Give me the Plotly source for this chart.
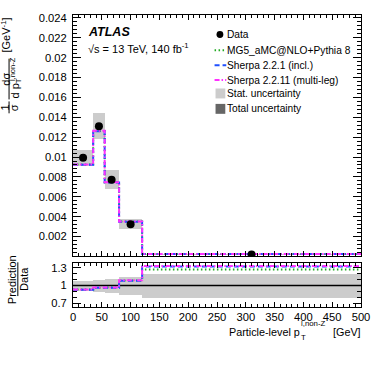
import plotly.graph_objects as go

# ---------------- data ----------------
bin_edges = [0, 35, 55, 80, 120, 500]
data_vals = [0.00993, 0.01310, 0.00772, 0.00323, 0.00018]
stat_rel = [0.08, 0.10, 0.12, 0.16, 0.21]
mg5_vals = [0.00924, 0.01262, 0.00745, 0.00350, 0.000229]
sh221_vals = [0.00922, 0.01260, 0.00743, 0.00349, 0.000238]
sh2211_vals = [0.00925, 0.01264, 0.00747, 0.00352, 0.000240]
data_x = [17.5, 45, 67, 100, 310]

y_main_ticks = [0.002, 0.004, 0.006, 0.008, 0.010, 0.012, 0.014, 0.016, 0.018, 0.020, 0.022, 0.024]
y_main_labels = ["0.002", "0.004", "0.006", "0.008", "0.01", "0.012", "0.014", "0.016", "0.018", "0.02", "0.022", "0.024"]
y_ratio_ticks = [0.7, 1.0, 1.3]
y_ratio_labels = ["0.7", "1", "1.3"]
x_ticks = [0, 50, 100, 150, 200, 250, 300, 350, 400, 450, 500]
x_labels = [str(v) for v in x_ticks]

models = [
    ("MG5_aMC@NLO+Pythia 8", mg5_vals, "#22aa22", "1.5px,2.5px"),
    ("Sherpa 2.2.1 (incl.)", sh221_vals, "#2050ff", "5px,3px"),
    ("Sherpa 2.2.11 (multi-leg)", sh2211_vals, "#ff30ff", "5px,2px,1.5px,2px"),
]

# ---------------- layout geometry ----------------
W, H = 382, 367
ML, MR, MT, MB = 73, 14, 13, 60
PW, PH = W - ML - MR, H - MT - MB
FONT = "Liberation Sans, Arial, Helvetica, sans-serif"


def px(x):
    return (x - ML) / PW


def py(y):
    return (H - MB - y) / PH


centers = [(bin_edges[i] + bin_edges[i + 1]) / 2 for i in range(len(data_vals))]
widths = [bin_edges[i + 1] - bin_edges[i] for i in range(len(data_vals))]

fig = go.Figure()

# ---- main panel: stat uncertainty boxes ----
st_err = [d * r for d, r in zip(data_vals, stat_rel)]
fig.add_trace(go.Bar(x=centers, y=[2 * e for e in st_err], base=[d - e for d, e in zip(data_vals, st_err)],
                     width=widths, marker=dict(color="#cccccc", line=dict(width=0)),
                     xaxis="x", yaxis="y", showlegend=False))

# ---- main panel: predictions ----
for name, vals, col, dash in models:
    fig.add_trace(go.Scatter(x=bin_edges, y=vals + [vals[-1]], mode="lines", line_shape="hv",
                             line=dict(color=col, width=2, dash=dash), xaxis="x", yaxis="y",
                             showlegend=False))

# ---- main panel: data ----
fig.add_trace(go.Scatter(x=data_x, y=data_vals, mode="markers",
                         marker=dict(color="black", size=8, symbol="circle"),
                         xaxis="x", yaxis="y", showlegend=False))

# ---- ratio panel ----
fig.add_trace(go.Bar(x=centers, y=[2 * r for r in stat_rel], base=[1 - r for r in stat_rel], width=widths,
                     marker=dict(color="#cccccc", line=dict(width=0)), xaxis="x2", yaxis="y2",
                     showlegend=False))
fig.add_trace(go.Scatter(x=[bin_edges[0], bin_edges[-1]], y=[1, 1], mode="lines",
                         line=dict(color="black", width=1.5), xaxis="x2", yaxis="y2", showlegend=False))
for name, vals, col, dash in models:
    r = [v / d for v, d in zip(vals, data_vals)]
    fig.add_trace(go.Scatter(x=bin_edges, y=r + [r[-1]], mode="lines", line_shape="hv",
                             line=dict(color=col, width=2, dash=dash), xaxis="x2", yaxis="y2",
                             showlegend=False))

axis_common = dict(showline=True, linecolor="black", linewidth=1, mirror="allticks",
                   ticks="inside", tickcolor="black", showgrid=False, zeroline=False,
                   tickfont=dict(family=FONT, size=11.2, color="black"))

fig.update_layout(
    width=W, height=H, margin=dict(l=ML, r=MR, t=MT, b=MB),
    paper_bgcolor="white", plot_bgcolor="white", barmode="overlay", bargap=0,
    font=dict(family=FONT, color="black"),
    xaxis=dict(domain=[0, 1], anchor="y", range=[0, 500], tickmode="array", tickvals=x_ticks,
               showticklabels=False, ticklen=5,
               minor=dict(ticks="inside", ticklen=3, tickmode="linear", tick0=0, dtick=10, tickcolor="black"),
               **axis_common),
    yaxis=dict(domain=[py(256), 1], anchor="x", range=[0, 0.0243], tickmode="array",
               tickvals=y_main_ticks, ticktext=y_main_labels, ticklen=8, ticklabelstandoff=3,
               minor=dict(ticks="inside", ticklen=4, tickmode="linear", tick0=0, dtick=0.0004, tickcolor="black"),
               **axis_common),
    xaxis2=dict(domain=[0, 1], anchor="y2", range=[0, 500], tickmode="array", tickvals=x_ticks,
                ticktext=x_labels, ticklen=5,
                minor=dict(ticks="inside", ticklen=3, tickmode="linear", tick0=0, dtick=10, tickcolor="black"),
                **axis_common),
    yaxis2=dict(domain=[0, py(262.3)], anchor="x2", range=[0.635, 1.39], tickmode="array",
                tickvals=y_ratio_ticks, ticktext=y_ratio_labels, ticklen=8, ticklabelstandoff=3,
                minor=dict(ticks="inside", ticklen=4, tickmode="linear", tick0=0.6, dtick=0.1, tickcolor="black"),
                **axis_common),
)

ann = []
shapes = []


def text(x, y, s, size=11.0, xanchor="center", yanchor="middle", angle=0):
    ann.append(dict(x=px(x), y=py(y), xref="paper", yref="paper", text=s, showarrow=False,
                    xanchor=xanchor, yanchor=yanchor, align=xanchor, textangle=angle,
                    borderpad=0, borderwidth=0,
                    font=dict(family=FONT, size=size, color="black")))


def vline(x, y0, y1):
    shapes.append(dict(type="line", xref="paper", yref="paper", x0=px(x), x1=px(x), y0=py(y0), y1=py(y1),
                       line=dict(color="black", width=1)))


# ATLAS label
text(88, 30, "<b><i>ATLAS</i></b>", size=12.5, xanchor="left")
text(88, 46.5, "√s = 13 TeV, 140 fb<sup>-1</sup>", size=11, xanchor="left")

# legend
leg_x_text = 230.5
leg_rows = [32.7, 48.5, 63.5, 78.5, 92.0, 107.5]
shapes.append(dict(type="circle", xref="paper", yref="paper", x0=px(220), x1=px(227),
                   y0=py(leg_rows[0] + 3.5), y1=py(leg_rows[0] - 3.5), fillcolor="black", line=dict(width=0)))
text(leg_x_text, leg_rows[0], "Data", size=10.2, xanchor="left")
for (name, vals, col, dash), yy in zip(models, leg_rows[1:4]):
    shapes.append(dict(type="line", xref="paper", yref="paper", x0=px(218), x1=px(230), y0=py(yy), y1=py(yy),
                       line=dict(color=col, width=2, dash=dash)))
    text(leg_x_text, yy, name, size=10.2, xanchor="left")
for col, yy, name in [("#cccccc", leg_rows[4], "Stat. uncertainty"), ("#666666", leg_rows[5], "Total uncertainty")]:
    shapes.append(dict(type="rect", xref="paper", yref="paper", x0=px(219), x1=px(229), y0=py(yy - 5), y1=py(yy + 5),
                       fillcolor=col, line=dict(width=0)))
    text(leg_x_text, yy, name, size=10.2, xanchor="left")

# x title
text(305.5, 332, "Particle-level p", size=10.8, xanchor="right")
text(306.5, 324, "l,non-Z", size=7.8, xanchor="left")
text(306.5, 337.5, "T", size=7.8, xanchor="left")
text(368.5, 332, "[GeV]", size=10.8, xanchor="right")

# main y title (rotated)
text(3.5, 106, "1", size=11, angle=-90)
text(12.5, 106, "σ", size=11, angle=-90)
vline(7.5, 100, 112)
text(3.5, 78, "dσ", size=11, angle=-90)
vline(7.5, 57, 98)
text(14, 89.5, "d p", size=11, angle=-90)
text(17.5, 79, "T", size=7.5, angle=-90)
text(11, 67, "l,non-Z", size=7.5, angle=-90)
text(4, 33, "[GeV<sup>-1</sup>]", size=11, angle=-90)

# ratio y title
text(10.5, 279, "Prediction", size=11, angle=-90)
vline(16.5, 262, 296)
text(22.5, 279, "Data", size=11, angle=-90)

fig.update_layout(annotations=ann, shapes=shapes)
fig.write_html("out.html", config={"displayModeBar": False},
               post_script="document.body.style.margin='0';document.body.style.padding='0';")
